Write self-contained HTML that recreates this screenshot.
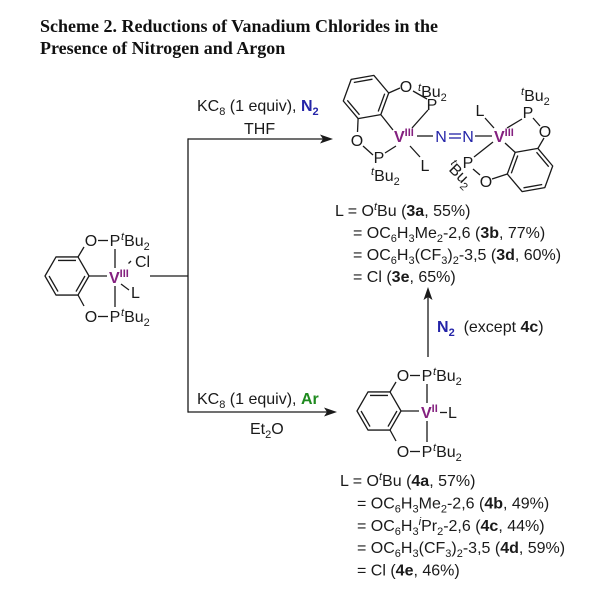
<!DOCTYPE html>
<html><head><meta charset="utf-8">
<style>
html,body{margin:0;padding:0;background:#fff;}
svg{display:block;}
text{font-family:"Liberation Sans",Arial,sans-serif;font-size:16px;fill:#1a1a1a;}
.t{font-family:"Liberation Serif","Times New Roman",serif;font-weight:bold;font-size:18px;fill:#111;}
.v{fill:#84207f;font-weight:bold;}
.n{fill:#2424a8;}
.g{fill:#1e8a1e;font-weight:bold;}
line{stroke:#1a1a1a;stroke-width:1.3;}
polygon.r{fill:none;stroke:#1a1a1a;stroke-width:1.3;stroke-linejoin:round;}
</style></head><body>
<svg width="600" height="612" viewBox="0 0 600 612" xmlns="http://www.w3.org/2000/svg">
<rect width="600" height="612" fill="#fff"/>

<!-- Title -->
<text class="t" x="40" y="32">Scheme 2. Reductions of Vanadium Chlorides in the</text>
<text class="t" x="40" y="54">Presence of Nitrogen and Argon</text>

<!-- Arrows / bracket -->
<line x1="150" y1="276" x2="188" y2="276"/>
<line x1="188" y1="138.4" x2="188" y2="412.6"/>
<line x1="188" y1="139" x2="324" y2="139"/>
<path d="M333,139 L320,134.5 L323,139 L320,143.5 Z" fill="#1a1a1a"/>
<line x1="188" y1="412" x2="328" y2="412"/>
<path d="M337,412 L324,407.5 L327,412 L324,416.5 Z" fill="#1a1a1a"/>
<line x1="428" y1="357" x2="428" y2="296"/>
<path d="M428,287 L423.5,300 L428,297 L432.5,300 Z" fill="#1a1a1a"/>

<!-- Arrow labels -->
<text x="197" y="111">KC<tspan font-size="11" dy="4">8</tspan><tspan dy="-4"> (1 equiv), </tspan><tspan class="n" font-weight="bold">N</tspan><tspan class="n" font-weight="bold" font-size="11" dy="4">2</tspan></text>
<text x="244" y="134">THF</text>
<text x="197" y="404">KC<tspan font-size="11" dy="4">8</tspan><tspan dy="-4"> (1 equiv), </tspan><tspan class="g">Ar</tspan></text>
<text x="250" y="434">Et<tspan font-size="11" dy="4">2</tspan><tspan dy="-4">O</tspan></text>
<text x="437" y="332"><tspan class="n" font-weight="bold">N</tspan><tspan class="n" font-weight="bold" font-size="11" dy="4">2</tspan><tspan dy="-4">&#160; (except </tspan><tspan font-weight="bold">4c</tspan>)</text>

<!-- Left starting complex -->
<polygon class="r" points="89,276 78,256.95 56,256.95 45,276 56,295.05 78,295.05"/>
<line x1="84.95" y1="276" x2="75.98" y2="291.54"/>
<line x1="75.98" y1="260.46" x2="58.02" y2="260.46"/>
<line x1="49.05" y1="276" x2="58.02" y2="291.54"/>
<line x1="78" y1="257" x2="84" y2="247"/>
<line x1="78" y1="295" x2="84" y2="306"/>
<text x="91" y="246" text-anchor="middle">O</text>
<line x1="98" y1="240.5" x2="108" y2="240.5"/>
<text x="115" y="246" text-anchor="middle">P</text>
<text x="121" y="246"><tspan font-size="11" font-style="italic" dy="-6">t</tspan><tspan dy="6">Bu</tspan><tspan font-size="11" dy="4">2</tspan></text>
<line x1="115" y1="249" x2="115" y2="268"/>
<line x1="89" y1="276" x2="107" y2="276"/>
<text x="109" y="283" class="v">V<tspan font-size="11" dy="-6">III</tspan></text>
<line x1="115" y1="286" x2="115" y2="307"/>
<text x="91" y="322" text-anchor="middle">O</text>
<line x1="98" y1="316.5" x2="108" y2="316.5"/>
<text x="115" y="322" text-anchor="middle">P</text>
<text x="121" y="322"><tspan font-size="11" font-style="italic" dy="-6">t</tspan><tspan dy="6">Bu</tspan><tspan font-size="11" dy="4">2</tspan></text>
<line x1="128.5" y1="263.5" x2="131" y2="261" stroke-width="1.6"/>
<text x="135" y="267">Cl</text>
<line x1="121" y1="284" x2="129" y2="290"/>
<text x="131" y="298">L</text>

<!-- Top dinitrogen complex: left half -->
<polygon class="r" points="380.8,114.6 388.7,93 373.9,75.4 351.2,79.4 343.3,101 358.1,118.6"/>
<line x1="378.2" y1="111.5" x2="384.7" y2="93.7"/>
<line x1="372.5" y1="79.2" x2="353.8" y2="82.5"/>
<line x1="347.3" y1="100.3" x2="359.5" y2="114.8"/>
<line x1="388.7" y1="93" x2="400" y2="88"/>
<text x="406" y="92" text-anchor="middle">O</text>
<line x1="413" y1="91" x2="427" y2="99"/>
<text x="432" y="110" text-anchor="middle">P</text>
<text x="418" y="97"><tspan font-size="11" font-style="italic" dy="-6">t</tspan><tspan dy="6">Bu</tspan><tspan font-size="11" dy="4">2</tspan></text>
<line x1="428" y1="110" x2="412" y2="128"/>
<line x1="380.8" y1="114.6" x2="393" y2="130"/>
<text x="394" y="142" class="v">V<tspan font-size="11" dy="-6">III</tspan></text>
<line x1="396" y1="146" x2="385" y2="153"/>
<text x="379" y="163" text-anchor="middle">P</text>
<line x1="373" y1="155" x2="363" y2="146"/>
<text x="357" y="146" text-anchor="middle">O</text>
<line x1="357.5" y1="132" x2="358.1" y2="118.6"/>
<text x="371" y="181"><tspan font-size="11" font-style="italic" dy="-6">t</tspan><tspan dy="6">Bu</tspan><tspan font-size="11" dy="4">2</tspan></text>
<line x1="410" y1="146" x2="420" y2="157"/>
<text x="425" y="171" text-anchor="middle">L</text>
<line x1="417" y1="136" x2="433" y2="136"/>
<text x="441" y="142" text-anchor="middle" class="n">N</text>
<line x1="449" y1="134" x2="461" y2="134" style="stroke:#2424a8"/>
<line x1="449" y1="138" x2="461" y2="138" style="stroke:#2424a8"/>
<text x="468" y="142" text-anchor="middle" class="n">N</text>
<line x1="475" y1="136" x2="492" y2="136"/>

<!-- Top dinitrogen complex: right half -->
<text x="494" y="142" class="v">V<tspan font-size="11" dy="-6">III</tspan></text>
<text x="480" y="116" text-anchor="middle">L</text>
<line x1="485" y1="118" x2="494" y2="128"/>
<line x1="507" y1="128" x2="522" y2="119"/>
<text x="528" y="118" text-anchor="middle">P</text>
<text x="521" y="101"><tspan font-size="11" font-style="italic" dy="-6">t</tspan><tspan dy="6">Bu</tspan><tspan font-size="11" dy="4">2</tspan></text>
<line x1="533" y1="118" x2="540" y2="126"/>
<text x="545" y="137" text-anchor="middle">O</text>
<line x1="544" y1="138" x2="537.9" y2="148.4"/>
<polygon class="r" points="515.2,152.4 537.9,148.4 552.7,166 544.8,187.6 522.1,191.6 507.3,174"/>
<line x1="517.8" y1="155.5" x2="511.3" y2="173.3"/>
<line x1="536.5" y1="152.2" x2="548.7" y2="166.7"/>
<line x1="542.2" y1="184.5" x2="523.5" y2="187.8"/>
<line x1="515.2" y1="152.4" x2="505" y2="143"/>
<line x1="493" y1="142" x2="474" y2="157"/>
<text x="468" y="168" text-anchor="middle">P</text>
<line x1="473" y1="169" x2="480" y2="175"/>
<text x="486" y="187" text-anchor="middle">O</text>
<line x1="492" y1="179" x2="507.3" y2="174"/>
<text transform="translate(446,168) rotate(45)"><tspan font-size="11" font-style="italic" dy="-6">t</tspan><tspan dy="6">Bu</tspan><tspan font-size="11" dy="4">2</tspan></text>

<!-- Text block 3 -->
<text x="335" y="216">L = O<tspan font-size="11" font-style="italic" dy="-6">t</tspan><tspan dy="6">Bu (</tspan><tspan font-weight="bold">3a</tspan>, 55%)</text>
<text x="353" y="238">= OC<tspan font-size="11" dy="4">6</tspan><tspan dy="-4">H</tspan><tspan font-size="11" dy="4">3</tspan><tspan dy="-4">Me</tspan><tspan font-size="11" dy="4">2</tspan><tspan dy="-4">-2,6 (</tspan><tspan font-weight="bold">3b</tspan>, 77%)</text>
<text x="353" y="260">= OC<tspan font-size="11" dy="4">6</tspan><tspan dy="-4">H</tspan><tspan font-size="11" dy="4">3</tspan><tspan dy="-4">(CF</tspan><tspan font-size="11" dy="4">3</tspan><tspan dy="-4">)</tspan><tspan font-size="11" dy="4">2</tspan><tspan dy="-4">-3,5 (</tspan><tspan font-weight="bold">3d</tspan>, 60%)</text>
<text x="353" y="282">= Cl (<tspan font-weight="bold">3e</tspan>, 65%)</text>

<!-- Bottom V(II) complex -->
<polygon class="r" points="401,411 390,391.95 368,391.95 357,411 368,430.05 390,430.05"/>
<line x1="396.95" y1="411" x2="387.98" y2="426.54"/>
<line x1="387.98" y1="395.46" x2="370.02" y2="395.46"/>
<line x1="361.05" y1="411" x2="370.02" y2="426.54"/>
<line x1="390" y1="392" x2="396" y2="382"/>
<line x1="390" y1="430" x2="396" y2="441"/>
<text x="403" y="381" text-anchor="middle">O</text>
<line x1="410" y1="375.5" x2="420" y2="375.5"/>
<text x="427" y="381" text-anchor="middle">P</text>
<text x="433" y="381"><tspan font-size="11" font-style="italic" dy="-6">t</tspan><tspan dy="6">Bu</tspan><tspan font-size="11" dy="4">2</tspan></text>
<line x1="427" y1="384" x2="427" y2="403"/>
<line x1="401" y1="411" x2="419" y2="411"/>
<text x="421" y="418" class="v">V<tspan font-size="11" dy="-6">II</tspan></text>
<line x1="440" y1="412.5" x2="447" y2="412.5"/>
<text x="448" y="418">L</text>
<line x1="427" y1="421" x2="427" y2="442"/>
<text x="403" y="457" text-anchor="middle">O</text>
<line x1="410" y1="451.5" x2="420" y2="451.5"/>
<text x="427" y="457" text-anchor="middle">P</text>
<text x="433" y="457"><tspan font-size="11" font-style="italic" dy="-6">t</tspan><tspan dy="6">Bu</tspan><tspan font-size="11" dy="4">2</tspan></text>

<!-- Text block 4 -->
<text x="340" y="486">L = O<tspan font-size="11" font-style="italic" dy="-6">t</tspan><tspan dy="6">Bu (</tspan><tspan font-weight="bold">4a</tspan>, 57%)</text>
<text x="357" y="508.5">= OC<tspan font-size="11" dy="4">6</tspan><tspan dy="-4">H</tspan><tspan font-size="11" dy="4">3</tspan><tspan dy="-4">Me</tspan><tspan font-size="11" dy="4">2</tspan><tspan dy="-4">-2,6 (</tspan><tspan font-weight="bold">4b</tspan>, 49%)</text>
<text x="357" y="531">= OC<tspan font-size="11" dy="4">6</tspan><tspan dy="-4">H</tspan><tspan font-size="11" dy="4">3</tspan><tspan font-size="11" font-style="italic" dy="-10">i</tspan><tspan dy="6">Pr</tspan><tspan font-size="11" dy="4">2</tspan><tspan dy="-4">-2,6 (</tspan><tspan font-weight="bold">4c</tspan>, 44%)</text>
<text x="357" y="553">= OC<tspan font-size="11" dy="4">6</tspan><tspan dy="-4">H</tspan><tspan font-size="11" dy="4">3</tspan><tspan dy="-4">(CF</tspan><tspan font-size="11" dy="4">3</tspan><tspan dy="-4">)</tspan><tspan font-size="11" dy="4">2</tspan><tspan dy="-4">-3,5 (</tspan><tspan font-weight="bold">4d</tspan>, 59%)</text>
<text x="357" y="575.5">= Cl (<tspan font-weight="bold">4e</tspan>, 46%)</text>
</svg>
</body></html>
